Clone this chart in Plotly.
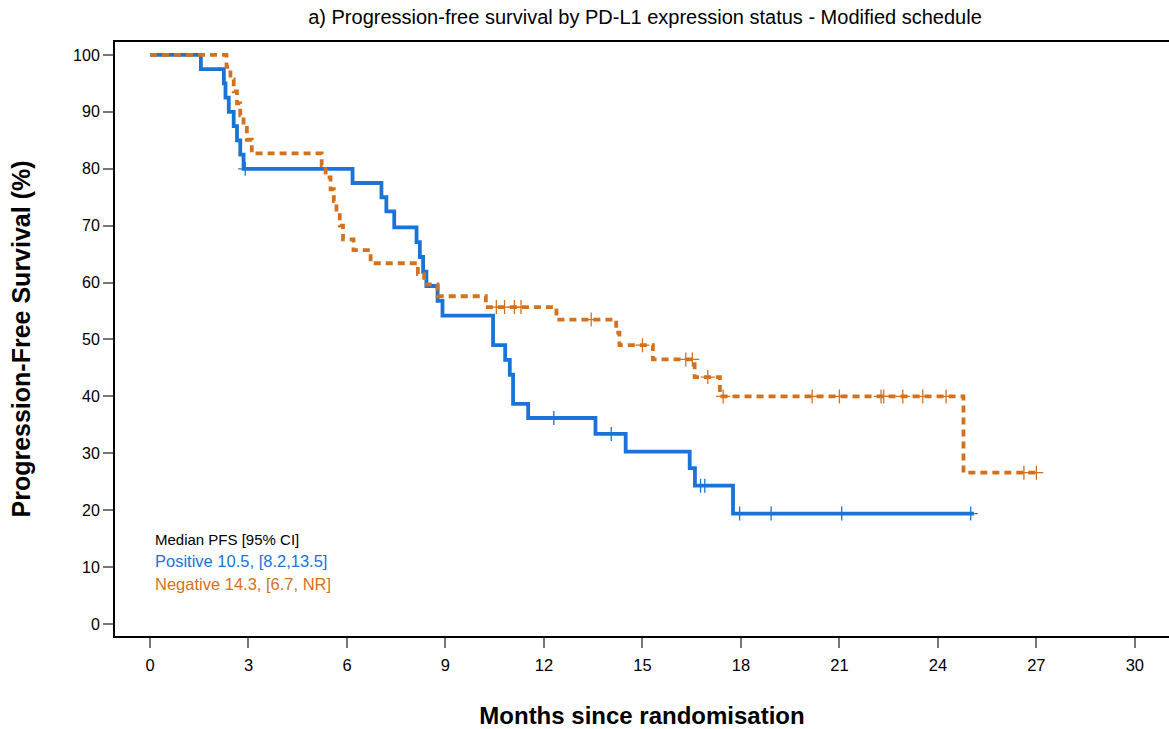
import plotly.graph_objects as go

# ---- Data ----
# Positive PD-L1: event times (months) and survival after each event (%)
pos_times = [1.55, 2.25, 2.3, 2.4, 2.55, 2.65, 2.75, 2.85, 6.17, 7.05, 7.2, 7.44,
             8.12, 8.22, 8.32, 8.42, 8.76, 8.91, 10.45, 10.82, 10.96, 11.06, 11.52,
             13.57, 14.49, 16.44, 16.6, 17.76]
pos_surv = [97.5, 95.0, 92.5, 90.0, 87.5, 85.0, 82.5, 80.0, 77.5, 75.0, 72.5, 69.7,
            67.1, 64.5, 61.9, 59.4, 56.8, 54.2, 49.0, 46.4, 43.8, 38.7, 36.2,
            33.4, 30.3, 27.4, 24.3, 19.4]
pos_censor = [2.9, 12.3, 14.05, 16.77, 16.9, 17.96, 18.92, 21.07, 25.0]
pos_end = 25.1

# Negative PD-L1
neg_times = [2.33, 2.45, 2.55, 2.65, 2.75, 2.85, 2.95, 3.1,
             5.23, 5.35, 5.5, 5.6, 5.68, 5.78, 5.88, 6.2, 6.72,
             8.16, 8.35, 8.76, 10.23, 12.38, 14.2, 14.3, 15.32, 16.59, 17.36, 24.78]
neg_surv = [97.9, 95.7, 93.6, 91.5, 89.4, 87.2, 85.1, 82.7,
            80.6, 78.5, 76.4, 74.3, 72.2, 70.0, 67.6, 65.7, 63.4,
            61.5, 59.7, 57.6, 55.7, 53.5, 51.2, 49.0, 46.5, 43.4, 40.0, 26.6]
neg_censor = [10.55, 10.8, 11.1, 11.3, 13.44, 15.0, 16.32, 16.52, 16.99, 17.46,
              20.17, 21.0, 22.27, 22.35, 22.93, 23.54, 24.25, 26.62, 27.0]
neg_end = 27.1

x_ticks = list(range(0, 31, 3))
y_ticks = list(range(0, 101, 10))

legend_lines = ["Median PFS [95% CI]", "Positive 10.5, [8.2,13.5]", "Negative 14.3, [6.7, NR]"]

BLUE = "#1a73d6"
ORANGE = "#d4711c"


def step_xy(times, surv, end):
    xs = [0.0] + list(times) + [end]
    ys = [100.0] + list(surv) + [surv[-1]]
    return xs, ys


def surv_at(times, surv, t):
    s = 100.0
    for ti, si in zip(times, surv):
        if ti <= t:
            s = si
    return s


fig = go.Figure()

nx, ny = step_xy(neg_times, neg_surv, neg_end)
px_, py_ = step_xy(pos_times, pos_surv, pos_end)

fig.add_trace(go.Scatter(x=px_, y=py_, mode="lines", line_shape="hv",
                         line=dict(color=BLUE, width=3.8), showlegend=False,
                         hoverinfo="skip"))
fig.add_trace(go.Scatter(x=nx, y=ny, mode="lines", line_shape="hv",
                         line=dict(color=ORANGE, width=3.8, dash="7px,5px"),
                         showlegend=False, hoverinfo="skip"))

fig.add_trace(go.Scatter(x=pos_censor, y=[surv_at(pos_times, pos_surv, t) for t in pos_censor],
                         mode="markers",
                         marker=dict(symbol="cross-thin", size=10,
                                     line=dict(color=BLUE, width=1.3)),
                         showlegend=False, hoverinfo="skip"))
fig.add_trace(go.Scatter(x=neg_censor, y=[surv_at(neg_times, neg_surv, t) for t in neg_censor],
                         mode="markers",
                         marker=dict(symbol="cross-thin", size=10,
                                     line=dict(color=ORANGE, width=1.3)),
                         showlegend=False, hoverinfo="skip"))

FONT = "Liberation Sans, Arial, Helvetica, sans-serif"

# plot area in pixels: left 115, right 1169, top 42, bottom 636
L, R, T, B = 115, 1169, 42, 636
legend_colors = ["#000000", BLUE, ORANGE]
legend_sizes = [15, 16.5, 16.5]
legend_ypix = [539, 561, 584]
for txt, col, sz, ypix in zip(legend_lines, legend_colors, legend_sizes, legend_ypix):
    fig.add_annotation(x=(155 - L) / (R - L), y=(B - ypix) / (B - T),
                       xref="paper", yref="paper", xshift=-2,
                       text=txt, showarrow=False, xanchor="left", yanchor="middle",
                       font=dict(family=FONT, size=sz, color=col))

fig.update_layout(
    width=1169, height=729,
    margin=dict(l=L, r=1169 - R, t=T, b=729 - B),
    paper_bgcolor="white", plot_bgcolor="white",
    title=dict(text="a) Progression-free survival by PD-L1 expression status - Modified schedule",
               x=645 / 1169, xanchor="center", y=1 - 17 / 729, yanchor="middle",
               font=dict(family=FONT, size=20, color="#000000")),
    font=dict(family=FONT, color="#000000"),
    xaxis=dict(range=[-1.066, 31.04], tickvals=x_ticks, ticktext=[str(v) for v in x_ticks],
               showgrid=False, zeroline=False, showline=True, linecolor="#000000",
               linewidth=2, mirror=True, ticks="outside", ticklen=10, tickwidth=2,
               tickcolor="#777777", tickfont=dict(size=16.5, family=FONT),
               ticklabelstandoff=3,
               title=dict(text="<b>Months since randomisation</b>",
                          font=dict(size=24, family=FONT), standoff=34)),
    yaxis=dict(range=[-2.11, 102.28], tickvals=y_ticks, ticktext=[str(v) for v in y_ticks],
               showgrid=False, zeroline=False, showline=True, linecolor="#000000",
               linewidth=2, mirror=False, ticks="outside", ticklen=10, tickwidth=2,
               tickcolor="#777777", tickfont=dict(size=16, family=FONT),
               title=dict(text="<b>Progression-Free Survival (%)</b>",
                          font=dict(size=25, family=FONT), standoff=35)),
)

fig.write_html("out.html")
